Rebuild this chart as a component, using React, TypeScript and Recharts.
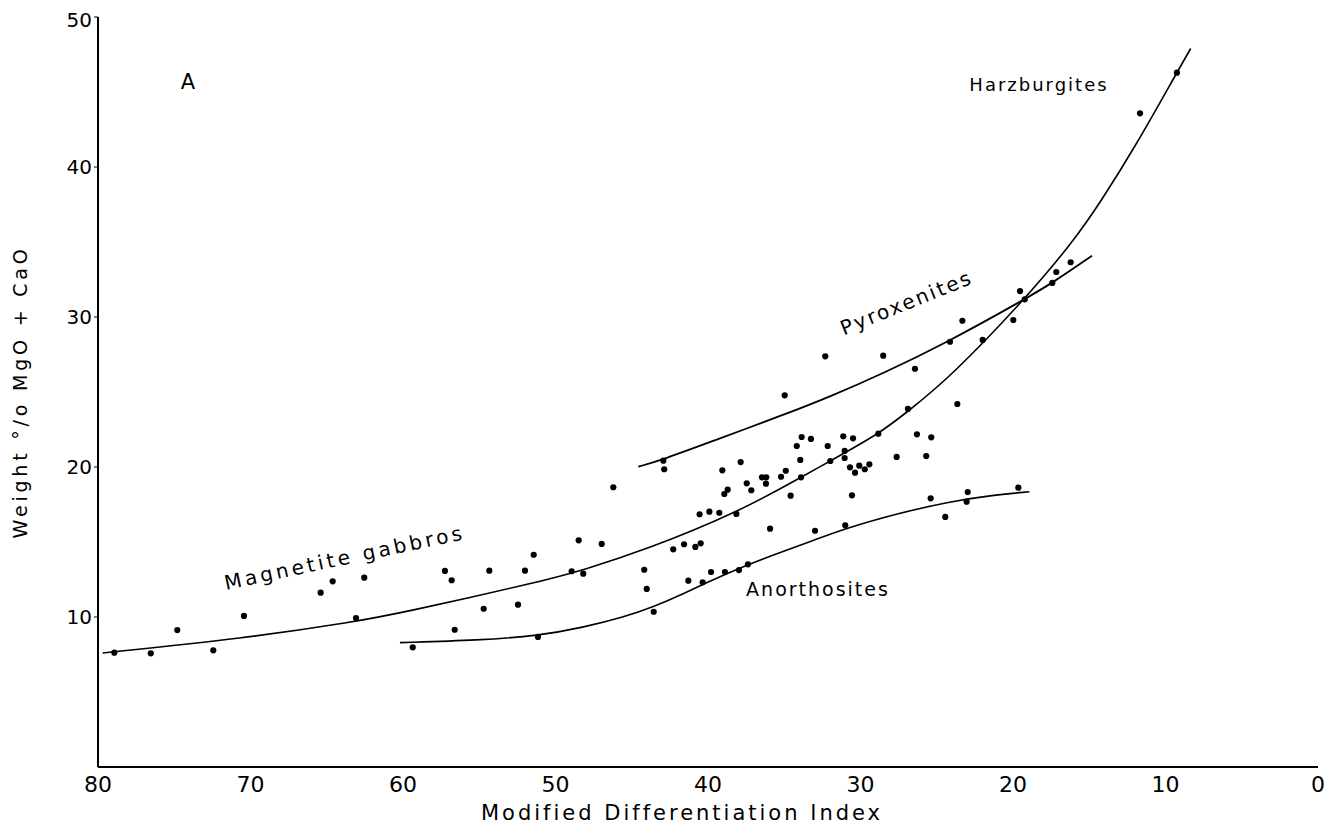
import { ComposedChart, Line, Scatter, XAxis, YAxis } from "recharts";

// scatter of samples: [modified differentiation index, wt% MgO + CaO]
const samples: [number, number][] = [
  [78.93, 7.62], [76.54, 7.58], [74.8, 9.13], [72.44, 7.78], [70.43, 10.07],
  [65.4, 11.62], [64.61, 12.38], [63.08, 9.93], [62.54, 12.62], [59.36, 7.98],
  [57.25, 13.07], [56.81, 12.45], [56.61, 9.15], [54.34, 13.09], [54.71, 10.55],
  [52.46, 10.82], [52.0, 13.09], [51.43, 14.15], [51.15, 8.67], [46.21, 18.65],
  [42.93, 20.42], [42.87, 19.85], [48.48, 15.11], [46.97, 14.87], [48.94, 13.05],
  [48.18, 12.89], [44.18, 13.15], [44.02, 11.87], [43.56, 10.35], [42.28, 14.51],
  [41.57, 14.85], [40.83, 14.67], [40.48, 14.91], [41.29, 12.42], [40.35, 12.31],
  [39.8, 13.0], [38.89, 13.0], [37.97, 13.13], [37.38, 13.51], [35.93, 15.89],
  [40.55, 16.85], [39.91, 17.02], [39.26, 16.95], [38.14, 16.87], [39.06, 19.78],
  [37.86, 20.33], [38.93, 18.2], [38.71, 18.49], [37.46, 18.91], [37.16, 18.45],
  [36.46, 19.31], [36.18, 19.31], [36.2, 18.89], [35.21, 19.35], [34.9, 19.75],
  [34.58, 18.09], [34.97, 24.78], [32.31, 27.38], [28.51, 27.42], [26.43, 26.55],
  [34.18, 21.4], [33.86, 22.0], [33.25, 21.87], [33.95, 20.47], [33.9, 19.31],
  [32.98, 15.75], [32.15, 21.4], [31.98, 20.4], [31.13, 22.05], [30.49, 21.91],
  [31.04, 21.07], [31.04, 20.6], [30.69, 19.98], [30.36, 19.62], [30.08, 20.09],
  [29.72, 19.85], [29.42, 20.18], [30.56, 18.11], [31.0, 16.11], [28.83, 22.22],
  [27.63, 20.67], [26.89, 23.87], [26.3, 22.18], [25.36, 21.98], [25.69, 20.73],
  [25.4, 17.91], [24.44, 16.67], [23.32, 29.75], [24.13, 28.35], [21.99, 28.47],
  [19.54, 31.73], [19.23, 31.18], [19.98, 29.8], [17.42, 32.27], [17.16, 33.0],
  [16.22, 33.65], [23.65, 24.2], [22.97, 18.33], [23.04, 17.69], [19.65, 18.62],
  [11.67, 43.58], [9.25, 46.29],
];

// hand-drawn trend curves
const mainCurve: [number, number][] = [
  [79.7, 7.6], [70.4, 8.58], [63.1, 9.69], [60.2, 10.25], [51.0, 12.35],
  [48.2, 13.13], [44.1, 14.47], [38.1, 16.95], [33.9, 19.31], [32.0, 20.4],
  [28.8, 22.2], [26.9, 23.7], [24.1, 26.0], [19.2, 31.2], [16.0, 35.1],
  [14.3, 37.6], [11.9, 41.5], [9.25, 46.3], [8.35, 47.9],
];
const pyroxeniteCurve: [number, number][] = [
  [44.57, 20.02], [42.93, 20.5], [39.65, 21.75], [35.06, 23.47], [32.0, 24.69],
  [28.51, 26.24], [24.24, 28.35], [19.23, 31.18], [17.42, 32.27], [14.82, 34.09],
];
const anorthositeCurve: [number, number][] = [
  [60.2, 8.29], [55.0, 8.45], [51.1, 8.75], [48.2, 9.3], [45.5, 10.0],
  [43.5, 10.7], [41.5, 11.6], [40.3, 12.2], [37.4, 13.5], [35.0, 14.4],
  [33.1, 15.1], [31.0, 15.9], [27.6, 16.9], [24.1, 17.7], [21.5, 18.1],
  [18.93, 18.35],
];

const xTicks = [80, 70, 60, 50, 40, 30, 20, 10, 0];
const yTicks = [10, 20, 30, 40, 50];

const toRows = (pts: [number, number][]) => pts.map(([x, y]) => ({ x, y }));

const FONT = "'DejaVu Sans', sans-serif";

const Dot = (props: any) => (
  <circle cx={props.cx} cy={props.cy} r={3.1} fill="#000" />
);

export default function App() {
  return (
    <div style={{ width: 1329, height: 822, background: "#fff" }}>
      <ComposedChart
        width={1329}
        height={822}
        margin={{ top: 9, right: 19, left: 0, bottom: 0 }}
      >
        <XAxis
          dataKey="x"
          type="number"
          domain={[0, 80]}
          ticks={xTicks}
          reversed
          height={63}
          tickLine={false}
          tickSize={0}
          tickMargin={9}
          axisLine={{ stroke: "#000", strokeWidth: 2 }}
          tick={{ fill: "#000", fontSize: 22, fontFamily: FONT }}
        />
        <YAxis
          type="number"
          domain={[0, 50]}
          ticks={yTicks}
          width={90}
          tickSize={4}
          tickMargin={2}
          tickLine={{ stroke: "#000" }}
          axisLine={{ stroke: "#000", strokeWidth: 2 }}
          tick={{ fill: "#000", fontSize: 20, fontFamily: FONT }}
        />
        <Line
          data={toRows(mainCurve)}
          dataKey="y"
          type="basis"
          dot={false}
          stroke="#000"
          strokeWidth={1.6}
          isAnimationActive={false}
        />
        <Line
          data={toRows(pyroxeniteCurve)}
          dataKey="y"
          type="basis"
          dot={false}
          stroke="#000"
          strokeWidth={1.8}
          isAnimationActive={false}
        />
        <Line
          data={toRows(anorthositeCurve)}
          dataKey="y"
          type="basis"
          dot={false}
          stroke="#000"
          strokeWidth={1.6}
          isAnimationActive={false}
        />
        <Scatter
          data={toRows(samples)}
          dataKey="y"
          shape={Dot}
          isAnimationActive={false}
        />

        <g fontFamily={FONT} fill="#000">
          <text x={180} y={75} textAnchor="middle" dominantBaseline="middle" fontSize={21}>
            A
          </text>
          <text x={1031} y={78} textAnchor="middle" dominantBaseline="middle" fontSize={18} letterSpacing={2}>
            Harzburgites
          </text>
          <text
            x={899}
            y={296}
            textAnchor="middle"
            dominantBaseline="middle"
            fontSize={20}
            letterSpacing={2.3}
            transform="rotate(-22 899 296)"
          >
            Pyroxenites
          </text>
          <text
            x={337}
            y={551}
            textAnchor="middle"
            dominantBaseline="middle"
            fontSize={20}
            letterSpacing={3.4}
            transform="rotate(-12 337 551)"
          >
            Magnetite  gabbros
          </text>
          <text x={810} y={582} textAnchor="middle" dominantBaseline="middle" fontSize={19} letterSpacing={2}>
            Anorthosites
          </text>
          <text
            x={13}
            y={384}
            textAnchor="middle"
            dominantBaseline="middle"
            fontSize={19}
            letterSpacing={3.8}
            transform="rotate(-90 13 384)"
          >
            Weight  °/o  MgO  +  CaO
          </text>
          <text x={674} y={806} textAnchor="middle" dominantBaseline="middle" fontSize={21} letterSpacing={3}>
            Modified  Differentiation  Index
          </text>
        </g>
      </ComposedChart>
    </div>
  );
}
